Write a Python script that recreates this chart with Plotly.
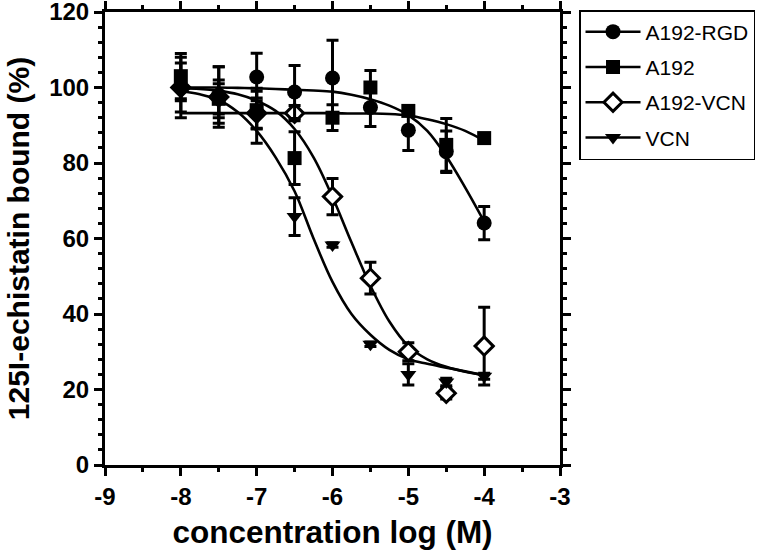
import plotly.graph_objects as go

# ---- data ----
conc_log = [-8, -7.5, -7, -6.5, -6, -5.5, -5, -4.5, -4]

rgd_mean = [100, 98, 102.8, 98.8, 102.5, 94.7, 88.7, 83, 64.1]
rgd_err = [8, 7.5, 6.3, 7, 10, 5, 5.4, 5.5, 4.4]

a192_mean = [103, 97, 94, 81.3, 92, 100, 93.8, 84.8, 86.6]
a192_err = [6, 5, 5, 7, 3.4, 4.5, 1.2, 7, 1]

vcnfus_mean = [100, 97.5, 93.2, 93.2, 71.1, 49.5, 30, 19, 31.5]
vcnfus_err = [6.5, 8, 4, 2, 4.8, 4.2, 2.4, 1.5, 10.3]

vcn_mean = [99.5, 97, 92.5, 65.8, 58.3, 32, 24, 22, 23.5]
vcn_err = [3, 4, 7.3, 5, 0.6, 0.6, 2.8, 1, 0.8]

fit_x = [-8, -7.75, -7.5, -7.25, -7, -6.75, -6.5, -6.25, -6, -5.75, -5.5,
         -5.25, -5, -4.75, -4.5, -4.25, -4]
rgd_fit = [100, 100, 100, 99.9, 99.8, 99.6, 99.4, 99.2, 98.9, 98.1, 96.9,
           95.2, 92.7, 88.5, 81.8, 73.5, 64.5]
a192_fit = [93.2, 93.2, 93.2, 93.2, 93.2, 93.2, 93.2, 93.2, 93.2, 93.1, 93.1,
            93.0, 92.6, 91.6, 90.3, 88.5, 85.9]
vcnfus_fit = [99.8, 99.6, 99.1, 98.2, 96.5, 93.8, 89, 81.5, 71, 59, 47.5,
              38, 31.5, 28, 26, 24.7, 23.8]
vcn_fit = [99, 98.2, 96.7, 93.5, 88.5, 81.5, 72.5, 60, 48.5, 40, 34.5,
           30.5, 28, 26.8, 25.8, 24.8, 23.8]

series_names = ["A192-RGD", "A192", "A192-VCN", "VCN"]

x_tickvals = [-9, -8, -7, -6, -5, -4, -3]
x_ticktext = ["-9", "-8", "-7", "-6", "-5", "-4", "-3"]
y_tickvals = [0, 20, 40, 60, 80, 100, 120]
y_ticktext = ["0", "20", "40", "60", "80", "100", "120"]

# ---- styles ----
styles = {
    "A192-RGD": dict(symbol="circle", size=15, color="black", line=dict(color="black", width=0)),
    "A192": dict(symbol="square", size=14, color="black", line=dict(color="black", width=0)),
    "A192-VCN": dict(symbol="diamond", size=14, color="white", line=dict(color="black", width=3)),
    "VCN": dict(symbol="triangle-down", size=14, color="black", line=dict(color="black", width=0)),
}

fig = go.Figure()

# fitted curves
for fy in [rgd_fit, a192_fit, vcnfus_fit, vcn_fit]:
    fig.add_trace(go.Scatter(x=fit_x, y=fy, mode="lines", hoverinfo="skip",
                             line=dict(color="black", width=2.6, shape="spline"),
                             showlegend=False))

# data points (drawing order: open diamonds first)
data = {
    "A192-VCN": (vcnfus_mean, vcnfus_err),
    "VCN": (vcn_mean, vcn_err),
    "A192": (a192_mean, a192_err),
    "A192-RGD": (rgd_mean, rgd_err),
}
for name, (m, e) in data.items():
    fig.add_trace(go.Scatter(
        x=conc_log, y=m, mode="markers", name=name, showlegend=False,
        marker=styles[name],
        error_y=dict(type="data", array=e, visible=True, color="black",
                     thickness=3, width=6),
    ))

# legend entries
for rank, name in enumerate(series_names):
    fig.add_trace(go.Scatter(
        x=[None], y=[None], mode="lines+markers", name=name,
        legendrank=rank + 1, legendgroup=name,
        line=dict(color="black", width=2.5), marker=styles[name],
    ))

# mirrored axes (top / right) so that minor ticks are mirrored too
fig.add_trace(go.Scatter(x=[None], y=[None], xaxis="x2", yaxis="y2",
                         showlegend=False, hoverinfo="skip"))

tickfont = dict(family="Liberation Sans", size=24, color="black", weight="bold")
xtitlefont = dict(family="Liberation Sans", size=31.5, color="black", weight="bold")
ytitlefont = dict(family="Liberation Sans", size=30, color="black", weight="bold")

axis_common = dict(
    showline=True, linecolor="black", linewidth=3,
    ticks="outside", ticklen=8, tickwidth=3, tickcolor="black",
    showgrid=False, zeroline=False, automargin=False,
)

fig.update_layout(
    width=762, height=555,
    margin=dict(l=105, r=202, t=12, b=90, autoexpand=False),
    paper_bgcolor="white", plot_bgcolor="white",
    xaxis=dict(range=[-9, -3], tickmode="array", tickvals=x_tickvals,
               ticktext=["<b>%s</b>" % t for t in x_ticktext], tickfont=tickfont,
               ticklabeloverflow="allow",
               minor=dict(dtick=0.5, tick0=-9, ticks="outside", ticklen=4, tickwidth=3, tickcolor="black"),
               title=dict(text="<b>concentration log (M)</b>", standoff=13, font=xtitlefont),
               **axis_common),
    yaxis=dict(range=[0, 120], tickmode="array", tickvals=y_tickvals,
               ticktext=["<b>%s</b>" % t for t in y_ticktext], tickfont=tickfont,
               ticklabeloverflow="allow",
               minor=dict(dtick=4, tick0=0, ticks="outside", ticklen=4, tickwidth=3, tickcolor="black"),
               title=dict(text="<b>125I-echistatin bound (%)</b>", standoff=11, font=ytitlefont),
               **axis_common),
    xaxis2=dict(range=[-9, -3], overlaying="x", side="top", anchor="y", showticklabels=False,
                tickmode="array", tickvals=x_tickvals,
                minor=dict(dtick=0.5, tick0=-9, ticks="outside", ticklen=4, tickwidth=3, tickcolor="black"),
                **axis_common),
    yaxis2=dict(range=[0, 120], overlaying="y", side="right", anchor="x", showticklabels=False,
                tickmode="array", tickvals=y_tickvals,
                minor=dict(dtick=4, tick0=0, ticks="outside", ticklen=4, tickwidth=3, tickcolor="black"),
                **axis_common),
    legend=dict(x=1.0418, y=1.0044, xanchor="left", yanchor="top",
                bordercolor="black", borderwidth=1.5, bgcolor="white",
                font=dict(family="Liberation Sans", size=21, color="black"),
                itemwidth=55, tracegroupgap=5),
    showlegend=True,
)

fig.write_html("out.html", config={"displayModeBar": False},
               post_script="document.body.style.margin='0';")
